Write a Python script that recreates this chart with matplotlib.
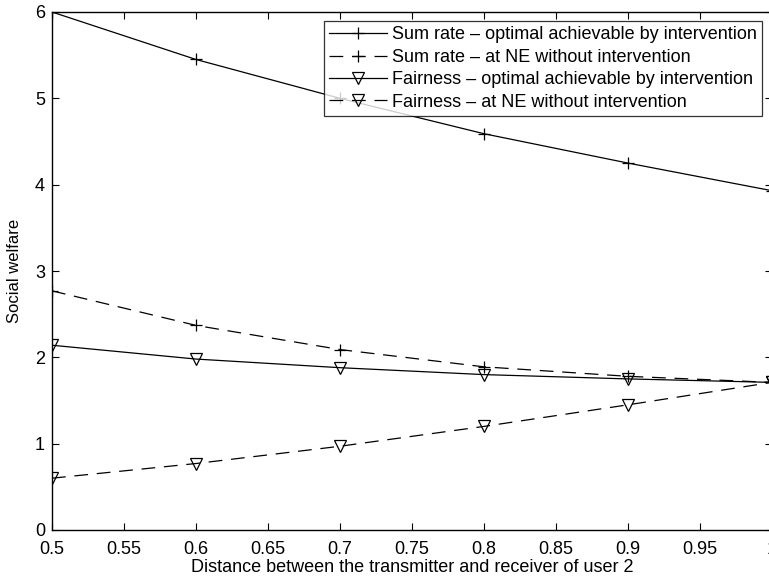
import numpy as np
import matplotlib.pyplot as plt

plt.rcParams['font.family'] = ['Liberation Sans', 'DejaVu Sans']

# Distance between the transmitter and receiver of user 2
distance = [0.5, 0.6, 0.7, 0.8, 0.9, 1.0]

# Social welfare values
sum_rate_opt = [6.0, 5.45, 5.0, 4.59, 4.25, 3.93]
sum_rate_ne = [2.77, 2.37, 2.09, 1.89, 1.78, 1.71]
fair_opt = [2.14, 1.98, 1.88, 1.80, 1.75, 1.71]
fair_ne = [0.60, 0.77, 0.97, 1.20, 1.45, 1.71]

xticks = [0.5, 0.55, 0.6, 0.65, 0.7, 0.75, 0.8, 0.85, 0.9, 0.95, 1.0]
xtick_labels = ['0.5', '0.55', '0.6', '0.65', '0.7', '0.75', '0.8', '0.85', '0.9', '0.95', '1']
yticks = [0, 1, 2, 3, 4, 5, 6]

fig = plt.figure(figsize=(7.69, 5.77), dpi=100)
# axes run a little past the right edge, as in the cropped original
ax = fig.add_axes([52 / 769, (577 - 530) / 577, 720 / 769, 518 / 577])

dash = (0, (11, 7))
ax.plot(distance, sum_rate_opt, color='black', lw=0.9, ls='-', marker='+',
        ms=8, mew=0.9, label='Sum rate \u2013 optimal achievable by intervention')
ax.plot(distance, sum_rate_ne, color='black', lw=0.9, ls=dash, marker='+',
        ms=8, mew=0.9, label='Sum rate \u2013 at NE without intervention')
ax.plot(distance, fair_opt, color='black', lw=0.9, ls='-', marker='v',
        ms=9, mew=0.9, mfc='none', label='Fairness \u2013 optimal achievable by intervention')
ax.plot(distance, fair_ne, color='black', lw=0.9, ls=dash, marker='v',
        ms=9, mew=0.9, mfc='none', label='Fairness \u2013 at NE without intervention')

ax.set_xlim(0.5, 1.0)
ax.set_ylim(0, 6)
ax.set_xticks(xticks)
ax.set_xticklabels(xtick_labels)
ax.set_yticks(yticks)
ax.tick_params(direction='in', top=True, right=True, length=5, width=0.8,
               labelsize=13)
ax.tick_params(axis='x', pad=8)
ax.tick_params(axis='y', pad=5)
for s in ax.spines.values():
    s.set_linewidth(1.0)

ax.set_xlabel('Distance between the transmitter and receiver of user 2', fontsize=13, labelpad=1)
ax.set_ylabel('Social welfare', fontsize=12, labelpad=9)

leg = ax.legend(loc='upper right', bbox_to_anchor=(762 / 769, (577 - 21) / 577),
                bbox_transform=fig.transFigure,
                fontsize=13, frameon=True, fancybox=False, edgecolor='black',
                borderaxespad=0, handlelength=3.2, handletextpad=0.25,
                labelspacing=0.3, borderpad=0.3)
leg.get_frame().set_linewidth(0.9)

fig.savefig('out.png', dpi=100)
